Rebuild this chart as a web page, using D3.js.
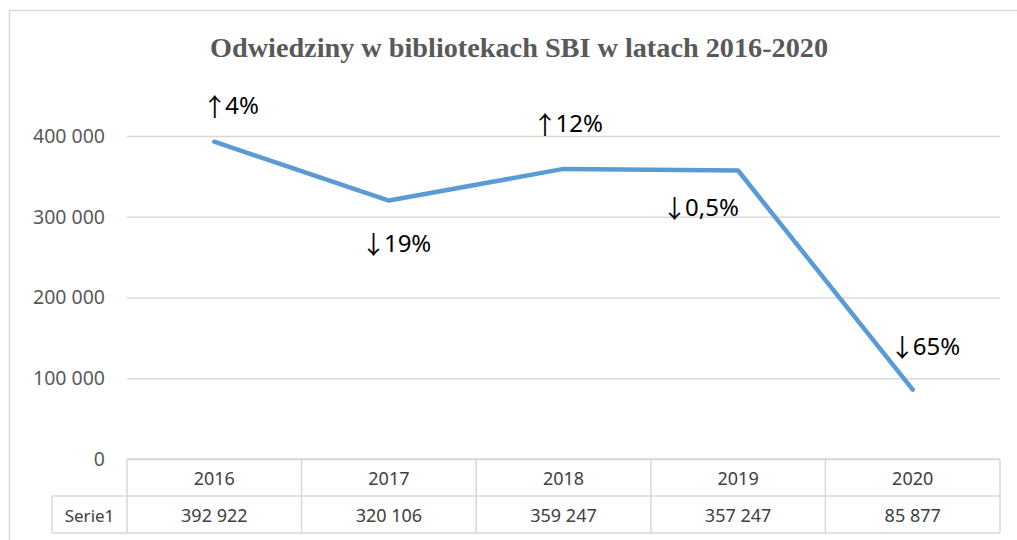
<!DOCTYPE html>
<html>
<head>
<meta charset="utf-8">
<script src="https://cdn.jsdelivr.net/npm/d3@7"></script>
<style>
  body { margin: 0; background: #fff; }
  svg { display: block; }
</style>
</head>
<body>
<div id="chart"></div>
<script>
// visits per year
var years = ["2016", "2017", "2018", "2019", "2020"];
var visits = [392922, 320106, 359247, 357247, 85877];
var arrows = ["↑", "↓", "↑", "↓", "↓"];
var changes = ["4%", "19%", "12%", "0,5%", "65%"];
var yTicks = [0, 100000, 200000, 300000, 400000];
var seriesName = "Serie1";

var W = 1017, H = 540;
var margin = {top: 136, left: 127, right: 17, bottom: 81};
var width = W - margin.left - margin.right,
    height = 459 - margin.top;

var svg = d3.select("#chart").append("svg")
  .attr("width", W)
  .attr("height", H);

// outer frame
svg.append("rect")
  .attr("x", 9.5).attr("y", 10.5)
  .attr("width", W + 20).attr("height", H + 20)
  .attr("fill", "none")
  .attr("stroke", "#d9d9d9")
  .attr("stroke-width", 1.5);

svg.append("text")
  .attr("x", 519)
  .attr("y", 57)
  .attr("text-anchor", "middle")
  .attr("textLength", 618)
  .attr("lengthAdjust", "spacingAndGlyphs")
  .style("font-family", "'Liberation Serif', 'Times New Roman', serif")
  .style("font-weight", "bold")
  .style("font-size", "27px")
  .attr("fill", "#595959")
  .text("Odwiedziny w bibliotekach SBI w latach 2016-2020");

var x = d3.scaleBand().domain(years).range([0, width]);
var y = d3.scaleLinear().domain([0, 400000]).range([height, 0]);

var g = svg.append("g")
  .attr("transform", "translate(" + margin.left + "," + margin.top + ")");

var fmt = function(v) { return d3.format(",")(v).replace(/,/g, " "); };

// grid + y labels
var yAxis = d3.axisLeft(y).tickValues(yTicks).tickSize(-width).tickFormat(fmt).tickPadding(22);
var ya = g.append("g").call(yAxis);
ya.select(".domain").remove();
ya.selectAll(".tick line").attr("stroke", "#d9d9d9").attr("stroke-width", 1.5);
ya.selectAll(".tick text")
  .style("font-family", "'Noto Sans', sans-serif")
  .style("font-size", "19.5px")
  .attr("fill", "#595959");

// line
var line = d3.line()
  .x(function(d, i) { return x(years[i]) + x.bandwidth() / 2; })
  .y(function(d) { return y(d); });

g.append("path")
  .datum(visits)
  .attr("d", line)
  .attr("fill", "none")
  .attr("stroke", "#5b9bd5")
  .attr("stroke-width", 4.5)
  .attr("stroke-linecap", "round")
  .attr("stroke-linejoin", "round");

// change labels
var offs = [[-12, -28], [-28, 51], [-31, -37], [-76, 45], [-23, -35]];
var lbl = g.selectAll(".chg")
  .data(changes)
  .enter().append("text")
  .attr("class", "chg")
  .attr("x", function(d, i) { return x(years[i]) + x.bandwidth() / 2 + offs[i][0]; })
  .attr("y", function(d, i) { return y(visits[i]) + offs[i][1]; })
  .attr("fill", "#000");
lbl.append("tspan")
  .attr("dy", 2)
  .style("font-family", "'Noto Sans CJK SC', sans-serif")
  .style("font-size", "25px")
  .attr("fill", "#000")
  .text(function(d, i) { return arrows[i]; });
lbl.append("tspan")
  .attr("dy", -2)
  .attr("dx", -2)
  .style("font-family", "'Noto Sans', sans-serif")
  .style("font-size", "24px")
  .text(function(d) { return d; });

// data table
var rowH = 37;
var tb = g.append("g").attr("transform", "translate(0," + height + ")");
var tableLeft = -75;
var gridC = "#d9d9d9";
tb.append("line").attr("x1", 0).attr("x2", width).attr("y1", 0).attr("y2", 0)
  .attr("stroke", gridC).attr("stroke-width", 1.5);
tb.append("line").attr("x1", tableLeft).attr("x2", width).attr("y1", rowH).attr("y2", rowH)
  .attr("stroke", gridC).attr("stroke-width", 1.5);
tb.append("line").attr("x1", tableLeft).attr("x2", width).attr("y1", rowH * 2).attr("y2", rowH * 2)
  .attr("stroke", gridC).attr("stroke-width", 1.5);
tb.append("line").attr("x1", tableLeft).attr("x2", tableLeft).attr("y1", rowH).attr("y2", rowH * 2)
  .attr("stroke", gridC).attr("stroke-width", 1.5);
tb.selectAll(".vl")
  .data(years.concat(["end"]))
  .enter().append("line")
  .attr("x1", function(d, i) { return i * x.bandwidth(); })
  .attr("x2", function(d, i) { return i * x.bandwidth(); })
  .attr("y1", 0).attr("y2", rowH * 2)
  .attr("stroke", gridC).attr("stroke-width", 1.5);

var cellFont = function(sel) {
  sel.style("font-family", "'Noto Sans', sans-serif")
    .style("font-size", "18px")
    .attr("fill", "#404040")
    .attr("text-anchor", "middle");
};
tb.selectAll(".yr")
  .data(years)
  .enter().append("text")
  .attr("x", function(d) { return x(d) + x.bandwidth() / 2; })
  .attr("y", rowH / 2 + 7)
  .call(cellFont)
  .text(function(d) { return d; });
tb.selectAll(".val")
  .data(visits)
  .enter().append("text")
  .attr("x", function(d, i) { return x(years[i]) + x.bandwidth() / 2; })
  .attr("y", rowH * 1.5 + 7)
  .call(cellFont)
  .text(function(d) { return fmt(d); });
tb.append("text")
  .attr("x", tableLeft / 2)
  .attr("y", rowH * 1.5 + 7)
  .call(cellFont)
  .style("font-size", "17px")
  .text(seriesName);
</script>
</body>
</html>
